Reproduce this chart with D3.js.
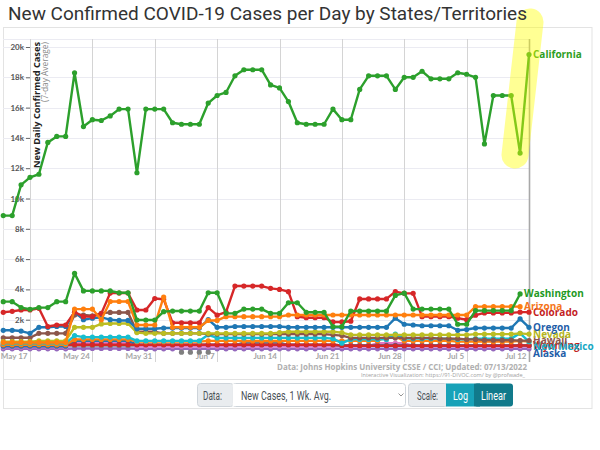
<!DOCTYPE html>
<html><head><meta charset="utf-8">
<script src="https://cdn.jsdelivr.net/npm/d3@7"></script>
<style>
body{margin:0;background:#fff;}
svg{display:block;}
</style></head><body>
<svg id="c" width="600" height="450"></svg>
<script>
// ---- DATA (new cases per day, 7-day average, in thousands) ----
const firstDay = "2022-05-14";
const lastDay = "2022-07-12";
const tickDates = ["2022-05-17","2022-05-24","2022-05-31","2022-06-07","2022-06-14","2022-06-21","2022-06-28","2022-07-05","2022-07-12"];
const yTicks = [2,4,6,8,10,12,14,16,18,20];

const california = [8.87,8.87,10.9,11.4,11.6,13.7,14.1,14.1,18.3,14.75, 15.2,15.15,15.45,15.9,15.9,11.7,15.9,15.9,15.9,15.0, 14.9,14.9,14.9,16.3,16.8,17.0,18.1,18.5,18.5,18.5, 17.5,17.3,16.4,15.0,14.9,14.9,14.9,15.9,15.2,15.2, 17.2,18.1,18.1,18.1,17.2,18.0,18.0,18.4,17.9,17.9, 17.9,18.3,18.2,18.0,13.6,16.8,16.8,16.8,13.0,19.5];
const washington = [3.19,3.19,2.8,2.69,2.8,2.8,3.19,3.19,5.06,3.9, 3.9,3.9,3.9,3.78,3.78,1.98,1.98,1.98,2.53,2.57, 2.57,2.57,2.57,3.78,3.78,2.42,2.42,2.7,2.7,2.7, 2.42,2.42,3.12,3.12,2.49,2.49,2.49,1.54,1.54,2.57, 2.57,2.57,2.57,2.57,3.6,3.75,2.7,2.7,2.7,2.7, 2.7,1.7,1.7,2.6,2.6,2.6,2.6,2.6,3.7];
const colorado = [2.49,2.55,2.64,2.64,2.75,1.55,1.65,1.65,2.5,2.2, 2.2,2.4,3.76,3.76,3.76,2.64,2.64,3.4,3.35,1.8, 1.8,1.8,1.8,2.8,2.3,2.5,4.22,4.22,4.22,4.22, 4.07,4.0,3.85,2.2,2.13,2.13,2.13,1.85,1.85,1.9, 3.37,3.37,3.37,3.37,3.85,3.74,3.74,2.2,2.2,2.2, 2.2,2.1,2.0,2.3,2.45,2.45,2.45,2.45,2.5,2.5];
const arizona = [0.5,0.5,0.5,0.5,0.5,0.5,0.5,0.5,2.7,2.7, 2.7,2.0,3.2,3.2,3.2,1.65,1.65,1.65,3.5,1.5, 1.5,1.5,1.5,1.95,1.95,2.2,2.2,2.2,2.2,2.2, 2.2,2.2,2.31,2.31,2.31,2.31,2.31,2.31,2.31,2.31, 2.31,2.31,2.31,2.31,2.31,2.31,2.31,2.31,2.31,2.31, 2.31,2.31,2.31,2.86,2.86,2.86,2.86,2.86,2.86];
const oregon = [1.3,1.3,1.25,1.1,1.5,1.5,1.55,1.55,2.5,2.0, 2.1,2.15,2.0,1.95,1.95,1.4,1.4,1.4,1.45,1.45, 1.45,1.45,1.45,2.0,1.5,1.5,1.55,1.55,1.55,1.55, 1.55,1.55,1.5,1.5,1.5,1.5,1.5,1.5,1.5,1.5, 1.5,1.5,1.5,1.5,2.1,1.7,1.65,1.6,1.6,1.6, 1.6,1.3,1.35,1.45,1.45,1.45,1.45,1.45,2.05,1.5];
const nevada = [0.55,0.55,0.55,0.55,0.6,0.6,0.6,0.6,1.5,1.5, 1.5,1.72,1.75,1.75,1.75,1.15,1.1,1.1,1.1,1.1, 1.1,1.1,1.1,1.1,1.1,1.1,1.1,1.1,1.1,1.1, 1.1,1.15,1.2,1.2,1.2,1.2,1.2,1.2,1.15,1.0, 1.0,1.0,1.0,1.0,1.0,1.0,1.0,1.0,1.0,1.0, 1.0,1.0,1.0,1.05,1.05,1.05,1.05,1.05,1.1,1.05];
const hawaii = [0.81,0.81,0.81,0.81,1.1,1.1,1.1,1.1,2.31,2.31, 2.26,2.42,2.48,2.48,2.48,1.2,1.2,1.2,1.1,1.1, 1.1,1.1,1.1,1.05,1.05,1.05,1.05,1.05,1.05,1.05, 1.05,1.05,1.05,1.05,1.05,1.05,1.05,1.0,0.95,0.8, 0.8,0.8,0.8,0.8,0.8,0.8,0.8,0.8,0.8,0.75, 0.75,0.75,0.7,0.7,0.65,0.65,0.65,0.65,0.62,0.62];
const newMexico = [0.45,0.45,0.45,0.45,0.45,0.45,0.45,0.45,0.95,0.85, 0.85,0.85,0.85,0.85,0.85,0.6,0.6,0.6,0.6,0.6, 0.6,0.6,0.6,1.0,0.8,0.8,0.8,0.8,0.8,0.8, 0.8,0.8,0.8,0.8,0.8,0.8,0.8,0.75,0.45,0.7, 0.7,0.7,0.7,0.7,1.05,0.75,0.75,0.75,0.75,0.75, 0.75,0.7,0.7,0.75,0.75,0.75,0.75,0.75,1.1,0.55];
const orangeLow = [0.35,0.35,0.35,0.35,0.35,0.35,0.35,0.35,0.7,0.7, 0.7,0.7,0.7,0.7,0.7,0.55,0.55,0.55,0.55,0.55, 0.55,0.55,0.55,0.6,0.6,0.6,0.6,0.6,0.6,0.6, 0.6,0.6,0.6,0.6,0.6,0.6,0.6,0.6,0.6,0.6, 0.6,0.6,0.6,0.9,0.9,0.6,0.6,0.6,0.6,0.6, 0.6,0.55,0.55,0.55,0.55,0.55,0.55,0.55,0.6,0.55];
const pinkLow = [0.2,0.2,0.2,0.2,0.2,0.2,0.2,0.2,0.45,0.45, 0.45,0.45,0.45,0.45,0.45,0.25,0.25,0.25,0.25,0.25, 0.25,0.25,0.25,0.25,0.25,0.25,0.25,0.25,0.25,0.25, 0.25,0.25,0.25,0.25,0.25,0.25,0.25,0.25,0.25,0.25, 0.25,0.25,0.45,0.45,0.45,0.45,0.25,0.25,0.25,0.25, 0.25,0.25,0.25,0.25,0.25,0.25,0.25,0.25,0.25,0.25];
const grayLow = [0.3,0.3,0.3,0.3,0.3,0.3,0.3,0.3,0.3,0.3, 0.3,0.3,0.3,0.3,0.3,0.3,0.3,0.3,0.3,0.3, -0.15,-0.15,-0.15,-0.15,0.3,0.3,0.3,0.5,0.5,0.5, 0.5,0.5,0.3,0.3,0.3,0.3,0.3,0.3,0.3,0.3, 0.3,0.3,0.3,0.3,0.3,0.3,0.3,0.3,0.3,0.3, 0.3,0.3,0.3,0.3,0.3,0.3,0.3,0.3,0.3,0.3];
const alaska = [0.25,0.25,0.25,0.25,0.25,0.25,0.25,0.25,0.6,0.6, 0.6,0.6,0.6,0.6,0.6,0.35,0.35,0.35,0.35,0.35, 0.35,0.35,0.35,0.35,0.35,0.35,0.35,0.35,0.35,0.35, 0.35,0.35,0.35,0.35,0.35,0.35,0.35,0.35,0.3,0.3, 0.3,0.3,0.3,0.3,0.3,0.3,0.3,0.3,0.3,0.3, 0.3,0.3,0.3,0.3,0.3,0.3,0.3,0.3,0.3,0.3];
const wyoming = [0.35,0.35,0.35,0.35,0.35,0.35,0.35,0.35,0.35,0.35, 0.35,0.35,0.35,0.35,0.35,0.35,0.35,0.35,0.35,0.35, 0.35,0.35,0.35,0.35,0.35,0.35,0.35,0.35,0.35,0.35, 0.35,0.35,0.35,0.35,0.35,0.35,0.35,0.35,0.3,0.28, 0.28,0.28,0.28,0.28,0.28,0.28,0.28,0.28,0.28,0.28, 0.28,0.28,0.28,0.28,0.28,0.28,0.28,0.28,0.3,0.3];
const purpleLow = [0.08,0.08,0.08,0.08,0.08,0.08,0.08,0.08,0.1,0.1, 0.1,0.1,0.1,0.1,0.1,0.08,0.08,0.08,0.08,0.08, 0.08,0.08,0.08,0.08,0.08,0.08,0.08,0.08,0.08,0.08, 0.08,0.08,0.08,0.08,0.08,0.08,0.08,0.08,0.08,0.08, 0.08,0.08,0.08,0.08,0.08,0.08,0.08,0.08,0.08,0.08, 0.08,0.08,0.08,0.08,0.08,0.08,0.08,0.08,0.08,0.08];

const series = [
  {name:null, values:purpleLow, color:"#9467bd"},
  {name:null, values:grayLow, color:"#7f7f7f"},
  {name:null, values:pinkLow, color:"#e377c2"},
  {name:"Alaska", values:alaska, color:"#1f77b4", labelColor:"#1f5ea8", dy:8},
  {name:"Wyoming", values:wyoming, color:"#d62728", labelColor:"#c01f20", dy:0},
  {name:null, values:orangeLow, color:"#ff7f0e"},
  {name:"New Mexico", values:newMexico, color:"#17becf", labelColor:"#17a8c4", dy:5},
  {name:"Hawaii", values:hawaii, color:"#8c564b", labelColor:"#8c564b", dy:0},
  {name:"Nevada", values:nevada, color:"#bcbd22", labelColor:"#b5b61f", dy:0},
  {name:"Oregon", values:oregon, color:"#1f77b4", labelColor:"#1f5ea8", dy:0},
  {name:"Colorado", values:colorado, color:"#d62728", labelColor:"#c41e1f", dy:0},
  {name:"Arizona", values:arizona, color:"#ff7f0e", labelColor:"#f5761a", dy:0},
  {name:"Washington", values:washington, color:"#2ca02c", labelColor:"#1f9a1f", dy:0},
  {name:"California", values:california, color:"#2ca02c", labelColor:"#2e9e1e", dy:0}
];

// ---- CHART ----
const svg = d3.select("#c");
const parse = d3.timeParse("%Y-%m-%d");
const dates = d3.timeDay.range(parse(firstDay), d3.timeDay.offset(parse(lastDay), 1));
const x = d3.scaleTime().domain([parse("2022-05-17"), parse("2022-07-12")]).range([30, 529]);
const y = d3.scaleLinear().domain([0, 20]).range([350, 47]);
const plotTop = 39, plotBottom = 362, plotLeft = 3, plotRight = 529;

// frame
svg.append("rect").attr("x",3.5).attr("y",27.5).attr("width",588.5).attr("height",381)
  .attr("fill","#fff").attr("stroke","#e3e3e3");
svg.append("line").attr("x1",3.5).attr("x2",592).attr("y1",379.5).attr("y2",379.5).attr("stroke","#e3e3e3");

// horizontal grid
svg.append("g").selectAll("line").data(yTicks).join("line")
  .attr("x1",plotLeft).attr("x2",plotRight)
  .attr("y1",d=>Math.round(y(d))+0.5).attr("y2",d=>Math.round(y(d))+0.5)
  .attr("stroke","#ebebf2");
svg.append("line").attr("x1",plotLeft).attr("x2",plotRight).attr("y1",plotTop+0.5).attr("y2",plotTop+0.5).attr("stroke","#ebebf2");

// vertical grid
const tdates = tickDates.map(parse);
svg.append("g").selectAll("line").data(tdates).join("line")
  .attr("x1",d=>Math.round(x(d))+0.5).attr("x2",d=>Math.round(x(d))+0.5)
  .attr("y1",plotTop).attr("y2",plotBottom)
  .attr("stroke",(d,i)=> i===tdates.length-1 ? "#a8a8a8" : "#d4d4d4")
  .attr("stroke-width",(d,i)=> i===tdates.length-1 ? 1.6 : 1);

// x labels
const xAxis = svg.append("g").attr("transform",`translate(0,${plotBottom-3})`)
  .call(d3.axisBottom(x).tickValues(tdates).tickSize(0).tickFormat(d3.timeFormat("%b %-d")));
xAxis.select(".domain").remove();
xAxis.selectAll("text").attr("text-anchor","end").attr("dx",-3).attr("dy",0).attr("y",0)
  .style("font-family","Lato, 'Open Sans', sans-serif").style("font-weight","700")
  .style("font-size","8px").attr("fill","#a6a6a6");

// y axis
const yAxis = svg.append("g").attr("transform","translate(30,0)")
  .call(d3.axisLeft(y).tickValues(yTicks).tickSize(4).tickPadding(2).tickFormat(d=>d+"k"));
yAxis.select(".domain").remove();
yAxis.selectAll("line").attr("stroke","#666");
yAxis.selectAll("text").style("font-family","Lato, 'Open Sans', sans-serif").style("font-weight","700")
  .style("font-size","8px").attr("fill","#555");

// y title
svg.append("text").attr("transform","translate(39.5,42) rotate(-90)").attr("text-anchor","end")
  .style("font-family","'Open Sans', sans-serif").style("font-weight","700").style("font-size","9.6px")
  .attr("textLength",126).attr("lengthAdjust","spacingAndGlyphs")
  .attr("fill","#222").text("New Daily Confirmed Cases");
svg.append("text").attr("transform","translate(48,42) rotate(-90)").attr("text-anchor","end")
  .style("font-family","'Open Sans', sans-serif").style("font-size","8.4px")
  .attr("textLength",60).attr("lengthAdjust","spacingAndGlyphs")
  .attr("fill","#8a8a8a").text("(7-day Average)");

// lines (negative values are shown as dots only)
const line = d3.line().defined(d=>d>=0).x((d,i)=>x(dates[i])).y(d=>y(d));
const gS = svg.append("g");
series.forEach(s=>{
  const g = gS.append("g");
  g.append("path").datum(s.values).attr("d",line).attr("fill","none")
    .attr("stroke",s.color).attr("stroke-width",2.4).attr("stroke-linejoin","round");
  g.selectAll("circle").data(s.values).join("circle")
    .attr("cx",(d,i)=>x(dates[i])).attr("cy",d=>y(d)).attr("r",2.6).attr("fill",s.color);
});

// end labels
series.filter(s=>s.name).forEach(s=>{
  const n = s.values.length-1;
  svg.append("text").attr("x",x(dates[n])+4).attr("y",y(s.values[n])+(s.dy||0))
    .attr("dy","0.35em")
    .style("font-family","'Open Sans', sans-serif").style("font-weight","700").style("font-size","10px")
    .attr("fill",s.labelColor).text(s.name);
});

// source text
svg.append("text").attr("x",527).attr("y",370).attr("text-anchor","end")
  .style("font-family","'Open Sans', sans-serif").style("font-weight","700").style("font-size","9px")
  .attr("textLength",250).attr("lengthAdjust","spacingAndGlyphs")
  .attr("fill","#b0b0b0").text("Data: Johns Hopkins University CSSE / CCI; Updated: 07/13/2022");
svg.append("text").attr("x",525).attr("y",377).attr("text-anchor","end")
  .style("font-family","'Open Sans', sans-serif").style("font-size","5.4px")
  .attr("textLength",164).attr("lengthAdjust","spacingAndGlyphs")
  .attr("fill","#a0a0a0").text("Interactive Visualization: https://91-DIVOC.com/ by @profwade_");

// highlight
svg.append("line").attr("x1",530).attr("y1",22).attr("x2",515).attr("y2",155)
  .attr("stroke","#ffff00").attr("stroke-opacity",0.42).attr("stroke-width",27).attr("stroke-linecap","round");

// title
svg.append("text").attr("x",8).attr("y",20)
  .style("font-family","Roboto, sans-serif").style("font-size","19px")
  .attr("fill","#333").text("New Confirmed COVID-19 Cases per Day by States/Territories");

// controls
const ctl = svg.append("g").style("font-family","Roboto, sans-serif").style("font-size","12.5px");
function box(x0,w,fill,stroke){
  ctl.append("rect").attr("x",x0+0.5).attr("y",383.5).attr("width",w).attr("height",23)
    .attr("rx",3).attr("fill",fill).attr("stroke",stroke);
}
function label(tx,anchor,fill,len,str){
  ctl.append("text").attr("x",tx).attr("y",399.5).attr("text-anchor",anchor).attr("fill",fill)
    .attr("textLength",len).attr("lengthAdjust","spacingAndGlyphs").text(str);
}
box(197,36,"#e9ecef","#ced4da");
box(232,173,"#fff","#ced4da");
ctl.append("rect").attr("x",232.5).attr("y",384).attr("width",4).attr("height",22).attr("fill","#fff");
label(203,"start","#495057",19,"Data:");
label(241,"start","#495057",90,"New Cases, 1 Wk. Avg.");
ctl.append("path").attr("d","M398.5,393.5 L401,396 L403.5,393.5").attr("fill","none").attr("stroke","#888").attr("stroke-width",0.9);
box(408,39,"#e9ecef","#ced4da");
ctl.append("rect").attr("x",446).attr("y",383.5).attr("width",28).attr("height",23).attr("fill","#17a2b8");
ctl.append("rect").attr("x",474).attr("y",383.5).attr("width",39).attr("height",23).attr("rx",3).attr("fill","#117a8b");
ctl.append("rect").attr("x",474).attr("y",383.5).attr("width",6).attr("height",23).attr("fill","#117a8b");
label(417,"start","#495057",21,"Scale:");
label(453,"start","#fff",15,"Log");
label(481,"start","#fff",25,"Linear");
</script>
</body></html>
